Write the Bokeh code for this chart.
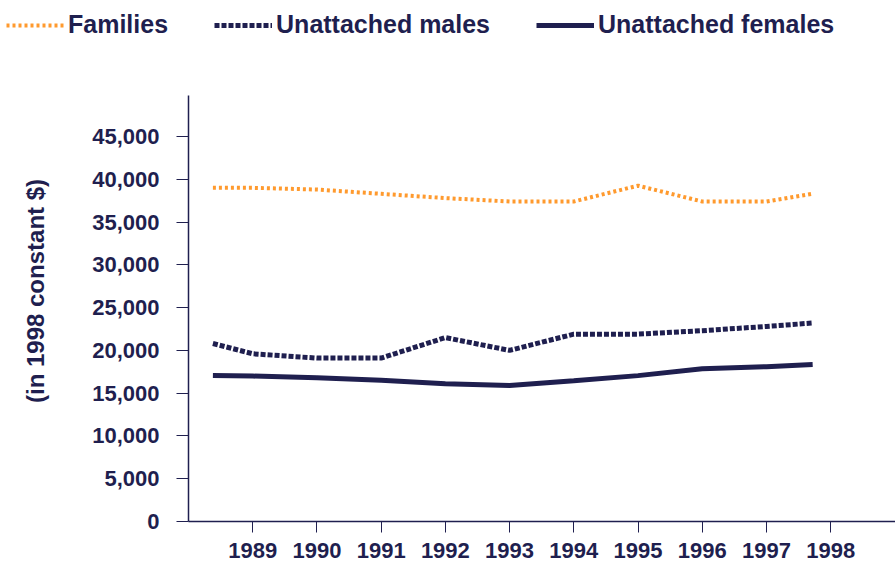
from bokeh.plotting import figure
from bokeh.models import Legend, LegendItem, FixedTicker, NumeralTickFormatter, Range1d
from bokeh.embed import file_html
from bokeh.resources import INLINE

# ---- data ----
years = [1988.38, 1989, 1990, 1991, 1992, 1993, 1994, 1995, 1996, 1997, 1997.72]
families = [39000, 39000, 38800, 38300, 37800, 37400, 37400, 39250, 37400, 37400, 38300]
unattached_males = [20800, 19600, 19100, 19100, 21500, 20000, 21900, 21900, 22300, 22800, 23200]
unattached_females = [17050, 17000, 16800, 16500, 16100, 15900, 16450, 17050, 17850, 18100, 18350]
series_names = ["Families", "Unattached males", "Unattached females"]
x_tick_years = [1989, 1990, 1991, 1992, 1993, 1994, 1995, 1996, 1997, 1998]
y_tick_values = [0, 5000, 10000, 15000, 20000, 25000, 30000, 35000, 40000, 45000]
y_label = "(in 1998 constant $)"

NAVY = "#1f1f4f"
ORANGE = "#ff9a2e"
FONT = "Liberation Sans"

series = [families, unattached_males, unattached_females]
styles = [dict(line_color=ORANGE, line_width=4, line_dash="3 3"),
          dict(line_color=NAVY, line_width=5, line_dash="5 2"),
          dict(line_color=NAVY, line_width=5)]

# ---- legend strip on top (its own root, full width) ----
lg = figure(width=895, height=60, output_backend="svg", toolbar_location=None,
            x_range=Range1d(0, 1), y_range=Range1d(0, 1),
            x_axis_type=None, y_axis_type=None,
            min_border_left=0, min_border_right=0, min_border_top=0, min_border_bottom=0)
lg.outline_line_color = None
lg.grid.visible = False
lg.border_fill_color = "white"
items = []
for name, vals, st in zip(series_names, series, styles):
    r = lg.line(years, vals, **st)  # out of this strip's view; only used for the legend key
    items.append(LegendItem(label=name, renderers=[r]))

legend = Legend(items=items, orientation="horizontal", location=(6, 21))
legend.glyph_width = 58
legend.glyph_height = 20
legend.label_standoff = 4
legend.spacing = 46
legend.padding = 2
legend.margin = 0
legend.border_line_color = None
legend.background_fill_alpha = 0
legend.label_text_font = FONT
legend.label_text_font_size = "25px"
legend.label_text_font_style = "bold"
legend.label_text_color = NAVY
lg.add_layout(legend)

# ---- main chart ----
p = figure(width=895, height=512, output_backend="svg", toolbar_location=None,
           x_range=Range1d(1988, 1999.01), y_range=Range1d(0, 53882),
           min_border_left=188, min_border_right=0, min_border_top=0, min_border_bottom=51)
p.background_fill_color = "white"
p.border_fill_color = "white"
p.outline_line_color = None
p.grid.visible = False

for vals, st in zip(series, styles):
    p.line(years, vals, **st)

ya = p.yaxis[0]
ya.bounds = (-1640, 49800)
ya.ticker = FixedTicker(ticks=y_tick_values)
ya.formatter = NumeralTickFormatter(format="0,0")
ya.major_tick_out = 12
ya.major_tick_in = 0
ya.minor_tick_out = 0
ya.minor_tick_in = 0
ya.major_tick_line_color = NAVY
ya.axis_line_color = NAVY
ya.axis_line_width = 1.5
ya.major_label_standoff = 17
ya.major_label_text_font = FONT
ya.major_label_text_font_size = "22px"
ya.major_label_text_font_style = "bold"
ya.major_label_text_color = NAVY
ya.axis_label = y_label
ya.axis_label_text_font = FONT
ya.axis_label_text_font_size = "24px"
ya.axis_label_text_font_style = "bold"
ya.axis_label_text_color = NAVY
ya.axis_label_standoff = 40

xa = p.xaxis[0]
xa.ticker = FixedTicker(ticks=x_tick_years)
xa.major_tick_out = 11
xa.major_tick_in = 0
xa.minor_tick_out = 0
xa.minor_tick_in = 0
xa.major_tick_line_color = NAVY
xa.axis_line_color = NAVY
xa.axis_line_width = 1.5
xa.major_label_standoff = 10
xa.major_label_text_font = FONT
xa.major_label_text_font_size = "22px"
xa.major_label_text_font_style = "bold"
xa.major_label_text_color = NAVY

open("out.html", "w").write(file_html([lg, p], INLINE))
